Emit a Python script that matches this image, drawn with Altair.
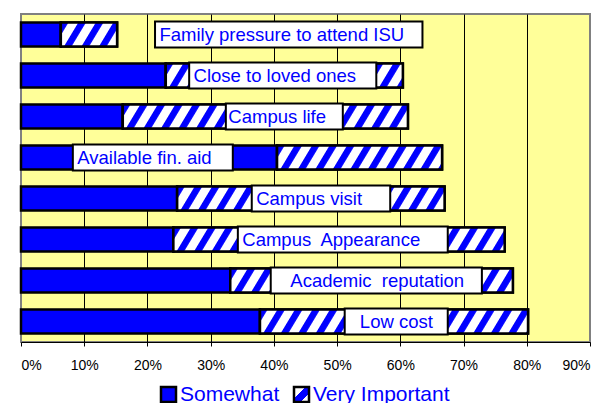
import base64
import altair as alt
import pandas as pd

# ---- data ----
categories = [
    "Family pressure to attend ISU",
    "Close to loved ones",
    "Campus life",
    "Available fin. aid",
    "Campus visit",
    "Campus\u00a0 Appearance",
    "Academic\u00a0 reputation",
    "Low cost",
]
somewhat = [6.3, 22.9, 16.1, 40.5, 24.7, 24.1, 33.1, 37.8]
very_important = [8.9, 37.5, 45.1, 26.1, 42.3, 52.4, 44.7, 42.4]
series_names = ["Somewhat", "Very Important"]
# label box extents and text start (in % units of the x axis)
label_left = [21.2, 26.6, 32.4, 8.2, 36.5, 34.3, 39.5, 51.2]
label_right = [63.5, 56.2, 50.9, 33.5, 58.4, 67.5, 72.9, 67.5]
label_text_x = [21.9, 27.3, 32.8, 8.9, 37.2, 35.0, 42.6, 53.6]
x_ticks = [0, 10, 20, 30, 40, 50, 60, 70, 80, 90]

BLUE = "#0000FF"
FONT = "Liberation Sans"

rows = []
for c, s, v in zip(categories, somewhat, very_important):
    rows.append({"cat": c, "series": series_names[0], "start": 0.0, "end": s})
    rows.append({"cat": c, "series": series_names[1], "start": s, "end": s + v})
bars_df = pd.DataFrame(rows)

labels_df = pd.DataFrame({
    "cat": categories,
    "left": label_left,
    "right": label_right,
    "tx": label_text_x,
})

hatch_svg = (
    "<svg xmlns='http://www.w3.org/2000/svg'>"
    "<defs><pattern id='h' patternUnits='userSpaceOnUse' width='15' height='60' "
    "patternTransform='rotate(31)'>"
    "<rect width='15' height='60' fill='#ffffff'/>"
    "<rect width='6.5' height='60' fill='#0000ff'/></pattern></defs>"
    "<rect width='100%' height='100%' fill='url(#h)'/></svg>"
)
hatch_url = "data:image/svg+xml;base64," + base64.b64encode(hatch_svg.encode()).decode()

# small hatched swatch for the legend symbol (a diagonal gradient band)
grad_expr = (
    "{gradient: 'linear', x1: 0, y1: 0, x2: 1, y2: 1, stops: ["
    "{offset: 0, color: '#ffffff'}, {offset: 0.38, color: '#ffffff'}, "
    "{offset: 0.38, color: '#0000ff'}, {offset: 0.7, color: '#0000ff'}, "
    "{offset: 0.7, color: '#ffffff'}, {offset: 1, color: '#ffffff'}]}"
)

yscale = alt.Scale(domain=categories, paddingInner=0.415, paddingOuter=0.2075)
xscale = alt.Scale(domain=[0, 90], nice=False, zero=True)

x_axis = alt.Axis(
    values=x_ticks,
    labelExpr="datum.value + '%'",
    title=None,
    grid=True,
    gridColor={"condition": {"test": "datum.value == 0 || datum.value == 90", "value": "#808080"}, "value": "black"},
    gridWidth=1,
    domainColor="black",
    domainWidth=1,
    tickColor="black",
    tickSize=4,
    labelFontSize=14,
    labelFont=FONT,
    labelColor="black",
    labelPadding=12,
)

legend = alt.Legend(
    title=None,
    orient="none",
    legendX=137,
    legendY=370,
    direction="horizontal",
    symbolType="square",
    symbolSize=225,
    symbolStrokeColor="black",
    symbolStrokeWidth=2.5,
    symbolOpacity=1,
    labelFontSize=21,
    labelFont=FONT,
    labelColor=BLUE,
    labelOffset=1,
    columnPadding=9,
    padding=0,
)

bars = alt.Chart(bars_df).mark_bar(stroke="black", strokeWidth=2.5, opacity=1).encode(
    x=alt.X("start:Q", scale=xscale, axis=x_axis),
    x2="end:Q",
    y=alt.Y("cat:N", scale=yscale, axis=None),
    fill=alt.Fill(
        "series:N",
        scale=alt.Scale(domain=series_names, range=[BLUE, alt.ExprRef(grad_expr)]),
        legend=legend,
    ),
)

hatch = alt.Chart(bars_df).transform_filter(
    alt.datum.series == "Very Important"
).mark_image(aspect=False).encode(
    x=alt.X("start:Q", scale=xscale),
    x2="end:Q",
    y=alt.Y("cat:N", scale=yscale, axis=None),
    url=alt.value(hatch_url),
)

outline = alt.Chart(bars_df).transform_filter(
    alt.datum.series == "Very Important"
).mark_bar(fill="white", fillOpacity=0, stroke="black", strokeWidth=2.5).encode(
    x=alt.X("start:Q", scale=xscale),
    x2="end:Q",
    y=alt.Y("cat:N", scale=yscale, axis=None),
)

boxes = alt.Chart(labels_df).mark_bar(fill="white", stroke="black", strokeWidth=2, height=26, opacity=1).encode(
    x=alt.X("left:Q", scale=xscale),
    x2="right:Q",
    y=alt.Y("cat:N", scale=yscale, axis=None),
)

texts = alt.Chart(labels_df).mark_text(
    align="left", baseline="middle", fontSize=18.5, font=FONT, color=BLUE
).encode(
    x=alt.X("tx:Q", scale=xscale),
    y=alt.Y("cat:N", scale=yscale, axis=None),
    text="cat:N",
)

chart = alt.layer(bars, hatch, outline, boxes, texts).properties(
    width=569,
    height=328,
    autosize=alt.AutoSizeParams(type="none"),
    padding={"left": 13, "top": 6, "right": 5, "bottom": 61},
    background="white",
).configure_view(
    fill="#FFFF99",
    stroke="#808080",
    strokeWidth=2,
)

chart.save("out.html", embed_options={"renderer": "svg", "actions": False})
